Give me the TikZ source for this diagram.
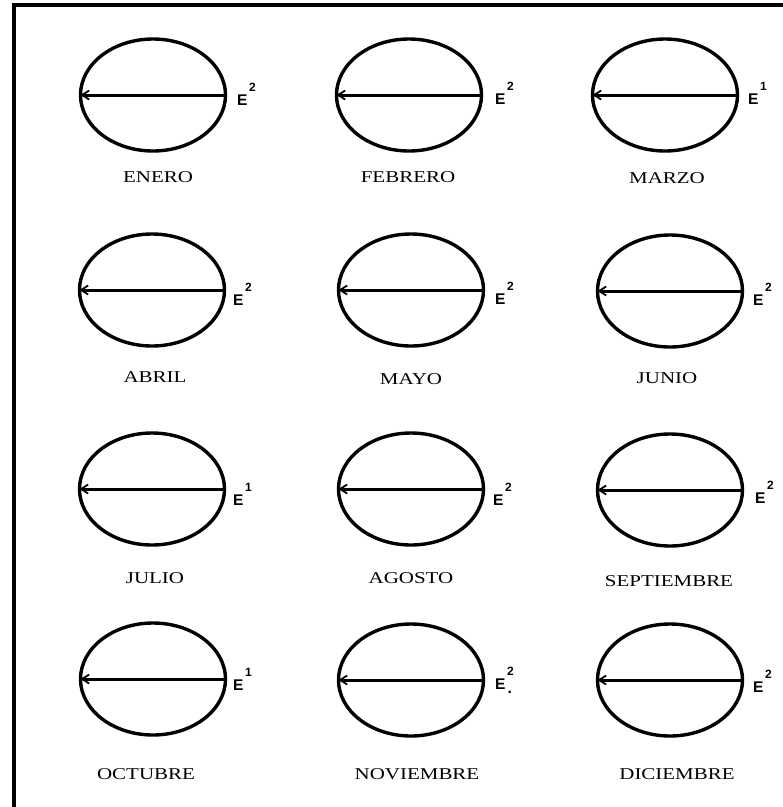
\documentclass[tikz,border=0pt]{standalone}
\usepackage{fontspec}
\usepackage{graphicx}
\setmainfont{Liberation Serif}
\newfontfamily\esans{Liberation Sans}
\usetikzlibrary{shapes.geometric,arrows.meta}
\tikzset{
  orbit/.style={ellipse, draw, line width=3.4pt, minimum width=145pt, minimum height=112pt, inner sep=0pt, outer sep=0pt},
  ray/.style={line width=3pt, -{Straight Barb[length=7pt,width=9pt,line width=1.8pt]}},
  month/.style={inner sep=0pt, font=\fontsize{16.5}{16.5}\selectfont},
  elabel/.style={anchor=base west, inner sep=0pt, font=\esans\bfseries\fontsize{15.5}{15.5}\selectfont},
  frame/.style={line width=3.8pt, line join=miter},
}
\begin{document}
\begin{tikzpicture}[x=1pt,y=-1pt]
\useasboundingbox (0,0) rectangle (783,807);
\fill[white] (0,0) rectangle (783,807);
\draw[frame] (14,807) -- (14,5) -- (783,5);
\foreach \n/\cx/\cy/\lab/\lx/\ly/\s/\ex/\ey/\d in {
  ene/153/95/ENERO/158/177.5/2/237/105/{},
  feb/409/95/FEBRERO/408/177/2/495/104/{},
  mar/665/95/MARZO/667/178/1/748/104/{},
  abr/152/290/ABRIL/155/377.5/2/233/305/{},
  may/411/290/MAYO/411/379/2/495/304/{},
  jun/670/291/JUNIO/667/378/2/753/305/{},
  jul/152/489/JULIO/155/578/1/233/505/{},
  ago/411/489/AGOSTO/411/578/2/493/505/{},
  sep/670/490/SEPTIEMBRE/669/581/2/755/503/{},
  oct/153/679/OCTUBRE/146/774/1/233/690/{},
  nov/411/680/NOVIEMBRE/417/774/2/495/689/{\kern-6pt\raisebox{-4pt}{.}},
  dic/670/680/DICIEMBRE/677/774/2/753/692/{}%
}{
  \node[orbit] (\n) at (\cx,\cy) {};
  \draw[ray] (\n.east) -- (\n.west);
  \node[month] (\n-lab) at (\lx,\ly) {\scalebox{1.27}[1]{\lab}};
  \node[elabel] (\n-e) at (\ex,\ey) {E\kern1.5pt\raisebox{14pt}{\fontsize{12}{12}\selectfont\s}\d};
}
\end{tikzpicture}
\end{document}
